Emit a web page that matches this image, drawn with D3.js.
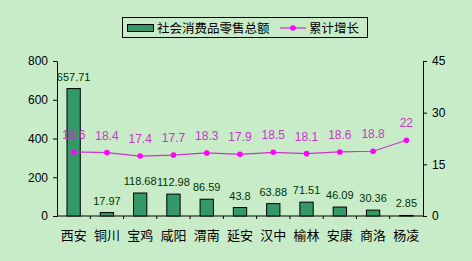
<!DOCTYPE html>
<html>
<head>
<meta charset="utf-8">
<script src="https://cdn.jsdelivr.net/npm/d3@7"></script>
<style>
  body { margin: 0; background: #c8ecc8; }
  svg { display: block; }
</style>
</head>
<body>
<div id="vis"></div>
<script>
/* data */
const cities = ["西安","铜川","宝鸡","咸阳","渭南","延安","汉中","榆林","安康","商洛","杨凌"];
const retail = [657.71, 17.97, 118.68, 112.98, 86.59, 43.8, 63.88, 71.51, 46.09, 30.36, 2.85];
const growth = [18.6, 18.4, 17.4, 17.7, 18.3, 17.9, 18.5, 18.1, 18.6, 18.8, 22];
const leftTicks  = [0, 200, 400, 600, 800];
const rightTicks = [0, 15, 30, 45];
const seriesNames = ["社会消费品零售总额", "累计增长"];

const W = 472, H = 261;
const m = {left: 57, right: 49, top: 61, bottom: 45};
const barCol = "#339966", lineCol = "#cc33cc", dotCol = "#ff00ff";
const cjk = "'Noto Sans CJK SC', sans-serif";
const num = "'Liberation Sans', Arial, sans-serif";

const svg = d3.select("#vis").append("svg").attr("width", W).attr("height", H);
svg.append("rect").attr("width", W).attr("height", H).attr("fill", "#c8ecc8");

const x = d3.scaleBand().domain(cities).range([m.left, W - m.right]).paddingInner(0.6).paddingOuter(0.3);
const yL = d3.scaleLinear().domain([0, 800]).range([H - m.bottom, m.top]);
const yR = d3.scaleLinear().domain([0, 45]).range([H - m.bottom, m.top]);

/* axes */
const axL = svg.append("g").attr("transform", `translate(${m.left},0)`)
  .call(d3.axisLeft(yL).tickValues(leftTicks).tickSize(4).tickSizeOuter(0));
const axR = svg.append("g").attr("transform", `translate(${W - m.right},0)`)
  .call(d3.axisRight(yR).tickValues(rightTicks).tickSize(4).tickSizeOuter(0));
[axL, axR].forEach(a => {
  a.select(".domain").attr("stroke", "#000");
  a.selectAll(".tick line").attr("stroke", "#000");
  a.selectAll("text").attr("font-family", num).attr("font-size", 12).attr("fill", "#000");
});
axL.selectAll("text").attr("x", -9);
axR.selectAll("text").attr("x", 9);

// x axis (categories with small tick marks between)
const xAx = svg.append("g").attr("transform", `translate(0,${H - m.bottom})`);
xAx.append("line").attr("x1", m.left).attr("x2", W - m.right).attr("stroke", "#000");
const step = x.step();
cities.forEach((c, i) => {
  if (i > 0) xAx.append("line")
    .attr("x1", m.left + i * (W - m.left - m.right) / cities.length)
    .attr("x2", m.left + i * (W - m.left - m.right) / cities.length)
    .attr("y1", 0).attr("y2", 3).attr("stroke", "#000");
});
xAx.selectAll("text.cat").data(cities).join("text")
  .attr("class", "cat")
  .attr("x", d => x(d) + x.bandwidth() / 2)
  .attr("y", 24)
  .attr("text-anchor", "middle")
  .attr("font-family", cjk).attr("font-size", 13)
  .text(d => d);

/* bars */
svg.append("g").selectAll("rect").data(cities).join("rect")
  .attr("x", d => x(d))
  .attr("y", (d, i) => yL(retail[i]))
  .attr("width", x.bandwidth())
  .attr("height", (d, i) => yL(0) - yL(retail[i]))
  .attr("fill", barCol).attr("stroke", "#000").attr("stroke-width", 1);

svg.append("g").selectAll("text").data(cities).join("text")
  .attr("x", d => x(d) + x.bandwidth() / 2)
  .attr("y", (d, i) => yL(retail[i]) - 8)
  .attr("text-anchor", "middle")
  .attr("font-family", num).attr("font-size", 11).attr("fill", "#003300")
  .text((d, i) => retail[i]);

/* line */
const line = d3.line().x(d => x(d[0]) + x.bandwidth() / 2).y(d => yR(d[1]));
const pts = cities.map((c, i) => [c, growth[i]]);
svg.append("path").datum(pts).attr("d", line)
  .attr("fill", "none").attr("stroke", lineCol).attr("stroke-width", 1.2);
svg.append("g").selectAll("circle").data(pts).join("circle")
  .attr("cx", d => x(d[0]) + x.bandwidth() / 2)
  .attr("cy", d => yR(d[1]))
  .attr("r", 2.8).attr("fill", dotCol);
svg.append("g").selectAll("text").data(pts).join("text")
  .attr("x", d => x(d[0]) + x.bandwidth() / 2)
  .attr("y", d => yR(d[1]) - 13)
  .attr("text-anchor", "middle")
  .attr("font-family", num).attr("font-size", 12).attr("fill", lineCol)
  .text(d => d[1]);

/* legend */
const lg = svg.append("g");
lg.append("rect").attr("x", 122.5).attr("y", 17.5).attr("width", 245).attr("height", 20)
  .attr("fill", "none").attr("stroke", "#000");
lg.append("rect").attr("x", 127.5).attr("y", 24.5).attr("width", 26).attr("height", 7)
  .attr("fill", barCol).attr("stroke", "#000");
lg.append("text").attr("x", 157).attr("y", 32.5)
  .attr("font-family", cjk).attr("font-size", 12.5).text(seriesNames[0]);
lg.append("line").attr("x1", 280).attr("x2", 306).attr("y1", 28).attr("y2", 28)
  .attr("stroke", lineCol).attr("stroke-width", 1.2);
lg.append("circle").attr("cx", 293).attr("cy", 28).attr("r", 2.8).attr("fill", dotCol);
lg.append("text").attr("x", 309).attr("y", 32.5)
  .attr("font-family", cjk).attr("font-size", 12.5).text(seriesNames[1]);
</script>
</body>
</html>
